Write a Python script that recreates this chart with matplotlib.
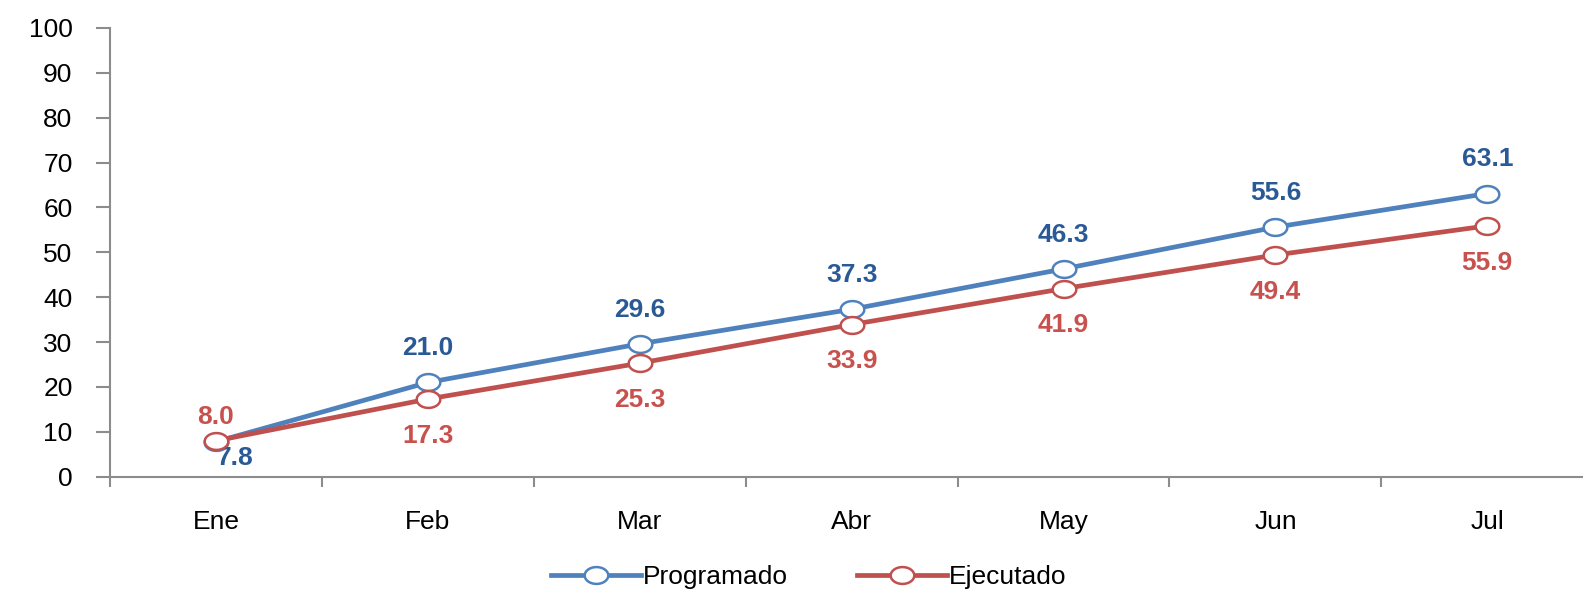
import numpy as np
import matplotlib.pyplot as plt
from matplotlib.path import Path

# data
meses = ['Ene', 'Feb', 'Mar', 'Abr', 'May', 'Jun', 'Jul']
programado = [7.8, 21.0, 29.6, 37.3, 46.3, 55.6, 63.1]
ejecutado = [8.0, 17.3, 25.3, 33.9, 41.9, 49.4, 55.9]

plt.rcParams['font.family'] = ['Liberation Sans', 'DejaVu Sans']

azul = '#4F81BD'
rojo = '#C0504D'
azul_txt = '#2A5A96'
rojo_txt = '#C8514E'

# wide ellipse marker (the original looks horizontally stretched)
t = np.linspace(0, 2 * np.pi, 41)
elipse = Path(np.column_stack([1.4 * np.cos(t), np.sin(t)]), closed=True)

fig = plt.figure(figsize=(15.83, 5.94), dpi=100)
ax = fig.add_axes([0.0695, 0.1975, 0.937, 0.7555])

x = list(range(len(meses)))
ax.plot(x, programado, color=azul, lw=3.4, marker=elipse, ms=17,
        mfc='white', mec=azul, mew=1.8, label='Programado', zorder=3)
ax.plot(x, ejecutado, color=rojo, lw=3.4, marker=elipse, ms=17,
        mfc='white', mec=rojo, mew=1.8, label='Ejecutado', zorder=4)

# labels: blue above, red below (Ene is swapped)
for i, (p, e) in enumerate(zip(programado, ejecutado)):
    if i == 0:
        op, oe = (14, -12), (0, 17)
    else:
        op, oe = (0, 24.5), (0, -26.5)
    ax.annotate(f'{p:.1f}', (i, p), xytext=op, textcoords='offset points',
                ha='center', va='center', fontsize=19, fontweight='bold',
                color=azul_txt)
    ax.annotate(f'{e:.1f}', (i, e), xytext=oe, textcoords='offset points',
                ha='center', va='center', fontsize=19, fontweight='bold',
                color=rojo_txt)

ax.set_xlim(-0.5, 6.5)
ax.set_ylim(0, 100)
ax.set_yticks(range(0, 101, 10))
ax.set_xticks(x)
ax.set_xticklabels(meses)
ax.set_xticks([i + 0.5 for i in range(-1, 7)], minor=True)

for s in ['top', 'right']:
    ax.spines[s].set_visible(False)
for s in ['left', 'bottom']:
    ax.spines[s].set_color('#8C8C8C')
    ax.spines[s].set_linewidth(1.5)

ax.tick_params(axis='y', labelsize=19, color='#8C8C8C', width=1.5, length=10, pad=17)
ax.tick_params(axis='x', which='major', length=0, labelsize=19, pad=24)
ax.tick_params(axis='x', which='minor', length=7, width=1.5, color='#8C8C8C')

fig.legend(loc='center', bbox_to_anchor=(0.511, 0.028), ncol=2, frameon=False,
           fontsize=19, handlelength=3.4, columnspacing=2.6, handletextpad=0.1)

fig.savefig('out.png', dpi=100)
